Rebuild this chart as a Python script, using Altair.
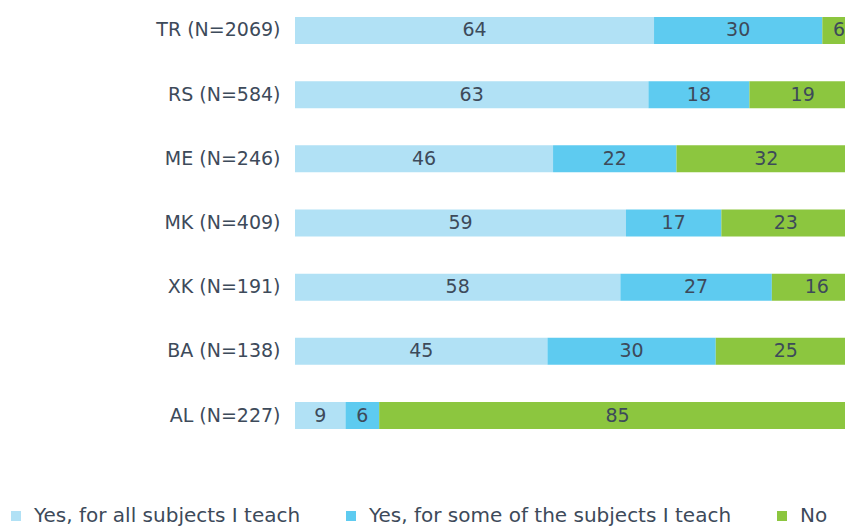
import altair as alt
import pandas as pd

countries = ["TR (N=2069)", "RS (N=584)", "ME (N=246)", "MK (N=409)",
             "XK (N=191)", "BA (N=138)", "AL (N=227)"]
series = ["Yes, for all subjects I teach", "Yes, for some of the subjects I teach", "No"]
yes_all = [64, 63, 46, 59, 58, 45, 9]
yes_some = [30, 18, 22, 17, 27, 30, 6]
no_vals = [6, 19, 32, 23, 16, 25, 85]
colors = ["#b1e1f5", "#5ecbf0", "#8cc63f"]

rows = []
for i, c in enumerate(countries):
    start = 0
    for s, v in zip(series, [yes_all[i], yes_some[i], no_vals[i]]):
        rows.append({"country": c, "series": s, "value": v,
                     "start": start, "end": start + v, "mid": start + v / 2,
                     "order": series.index(s)})
        start += v
df = pd.DataFrame(rows)

FONT = "DejaVu Sans"
TEXT = "#3d4a5a"

# visible part of the 0-100 axis (the right end is cut off in the original)
xscale = alt.Scale(domain=[0, 98.04], nice=False, zero=False)
yenc = alt.Y("country:N", sort=countries,
             scale=alt.Scale(paddingInner=0.58, paddingOuter=0),
             axis=alt.Axis(title=None, domain=False, ticks=False, labelPadding=15,
                           labelFontSize=19, labelColor=TEXT, labelFont=FONT))

bars = alt.Chart(df).mark_bar(clip=True).encode(
    x=alt.X("start:Q", scale=xscale, axis=None),
    x2="end:Q",
    y=yenc,
    color=alt.Color("series:N", sort=series,
                    scale=alt.Scale(domain=series, range=colors),
                    legend=alt.Legend(title=None, orient="none", direction="horizontal",
                                      legendX=-289, legendY=489,
                                      symbolType="square", symbolSize=100,
                                      symbolStrokeWidth=0,
                                      labelFontSize=20, labelFont=FONT, labelColor=TEXT,
                                      labelOffset=8, columnPadding=40, padding=0,
                                      labelLimit=400)),
    order="order:Q",
)

labels = alt.Chart(df).mark_text(font=FONT, fontSize=19, color=TEXT,
                                 baseline="middle", align="center").encode(
    x=alt.X("mid:Q", scale=xscale),
    y=alt.Y("country:N", sort=countries),
    text="value:Q",
)

chart = (bars + labels).properties(
    width=550, height=412,
    autosize=alt.AutoSizeParams(type="none"),
    padding={"left": 287, "top": 9, "right": 0, "bottom": 99},
    background="white",
).configure_view(stroke=None)

chart.save("out.html", embed_options={"renderer": "svg", "actions": False})
